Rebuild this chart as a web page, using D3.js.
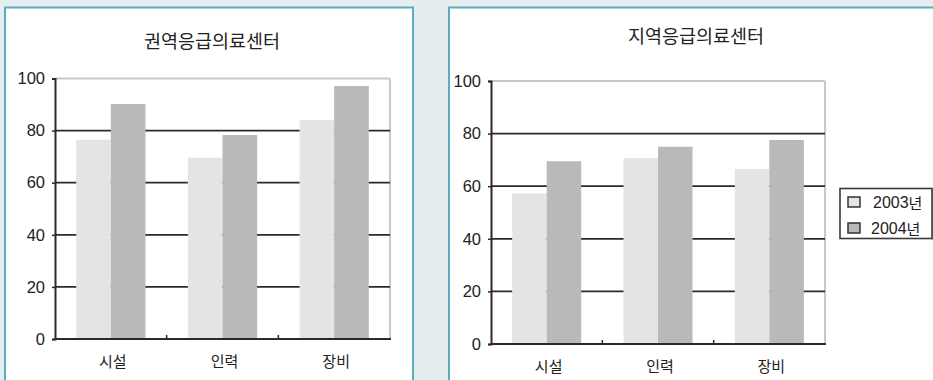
<!DOCTYPE html>
<html>
<head>
<meta charset="utf-8">
<script src="https://cdn.jsdelivr.net/npm/d3@7"></script>
<style>
  html, body { margin: 0; padding: 0; background: #e4edf0; }
  svg { display: block; }
  text { font-family: "Noto Sans CJK KR", "Liberation Sans", sans-serif; fill: #222; }
</style>
</head>
<body>
<svg id="chart" width="933" height="380"></svg>
<script>
// Categories and series
const categories = ["시설", "인력", "장비"];
const seriesNames = ["2003년", "2004년"];
const yTicks = [0, 20, 40, 60, 80, 100];

// 권역응급의료센터
const regionalTitle = "권역응급의료센터";
const regional2003 = [76.5, 69.6, 84.0];
const regional2004 = [90.2, 78.3, 97.1];

// 지역응급의료센터
const localTitle = "지역응급의료센터";
const local2003 = [57.3, 70.7, 66.5];
const local2004 = [69.5, 75.0, 77.6];

const colors = ["#e4e4e4", "#b9b9b9"];
const numFont = "'Liberation Sans Narrow', 'Liberation Sans', sans-serif";

const svg = d3.select("#chart");

// Panel frames
svg.append("rect").attr("x", 5).attr("y", 7.5).attr("width", 408).attr("height", 400)
  .attr("fill", "#fff").attr("stroke", "#5aaebc").attr("stroke-width", 2);
svg.append("rect").attr("x", 449).attr("y", 7.5).attr("width", 500).attr("height", 400)
  .attr("fill", "#fff").attr("stroke", "#5aaebc").attr("stroke-width", 2);

function drawChart(cfg) {
  const g = svg.append("g");
  const x = d3.scaleBand().domain(categories).range([cfg.x0, cfg.x1]).padding(0);
  const y = d3.scaleLinear().domain([0, 100]).range([cfg.yBottom, cfg.yTop]);
  const groupW = x.bandwidth() * 0.62;
  const xs = d3.scaleBand().domain(seriesNames).range([0, groupW]).padding(0);

  // title
  g.append("text").attr("x", cfg.titleX).attr("y", cfg.titleY)
    .attr("text-anchor", "middle").attr("dominant-baseline", "central")
    .attr("font-size", 18.5).text(cfg.title);

  // frame: top and right edges in light grey
  g.append("line").attr("x1", cfg.x0).attr("x2", cfg.x1).attr("y1", y(100)).attr("y2", y(100))
    .attr("stroke", "#c9c9c9").attr("stroke-width", 2);
  g.append("line").attr("x1", cfg.x1).attr("x2", cfg.x1).attr("y1", y(100)).attr("y2", y(0))
    .attr("stroke", "#c9c9c9").attr("stroke-width", 2);

  // horizontal gridlines
  g.selectAll(".grid").data(yTicks.filter(t => t > 0 && t < 100)).join("line")
    .attr("x1", cfg.x0).attr("x2", cfg.x1)
    .attr("y1", d => y(d)).attr("y2", d => y(d))
    .attr("stroke", "#2a2a2a").attr("stroke-width", 1.8);

  // bars
  const data = categories.map((c, i) => ({ c, vals: [cfg.s1[i], cfg.s2[i]] }));
  const groups = g.selectAll(".grp").data(data).join("g")
    .attr("transform", d => `translate(${x(d.c) + (x.bandwidth() - groupW) / 2},0)`);
  groups.selectAll("rect").data(d => d.vals.map((v, k) => ({ v, k }))).join("rect")
    .attr("x", d => xs(seriesNames[d.k]))
    .attr("width", xs.bandwidth())
    .attr("y", d => y(d.v))
    .attr("height", d => y(0) - y(d.v))
    .attr("fill", d => colors[d.k]);

  // left axis
  const yAxis = d3.axisLeft(y).tickValues(yTicks).tickSize(3).tickPadding(7);
  const ya = g.append("g").attr("transform", `translate(${cfg.x0},0)`).call(yAxis);
  ya.select(".domain").attr("stroke", "#2a2a2a").attr("stroke-width", 2);
  ya.selectAll(".tick line").attr("stroke", "#2a2a2a").attr("stroke-width", 1.5);
  ya.selectAll(".tick text").attr("font-size", 16.5).attr("fill", "#222")
    .style("font-family", numFont);

  // bottom axis with separators between categories
  g.append("line").attr("x1", cfg.x0).attr("x2", cfg.x1 + 1).attr("y1", y(0)).attr("y2", y(0))
    .attr("stroke", "#2a2a2a").attr("stroke-width", 2);
  g.selectAll(".sep").data(categories.slice(1)).join("line")
    .attr("x1", d => x(d)).attr("x2", d => x(d))
    .attr("y1", y(0)).attr("y2", y(0) - 4)
    .attr("stroke", "#2a2a2a").attr("stroke-width", 1.5);
  g.selectAll(".xl").data(categories).join("text")
    .attr("x", d => x(d) + x.bandwidth() / 2 + 2)
    .attr("y", cfg.yBottom + 21)
    .attr("text-anchor", "middle").attr("dominant-baseline", "central")
    .attr("font-size", 15).text(d => d);
  return { x, y };
}

drawChart({ title: regionalTitle, s1: regional2003, s2: regional2004,
  x0: 55, x1: 390, yTop: 78.5, yBottom: 339, titleX: 212, titleY: 40 });
drawChart({ title: localTitle, s1: local2003, s2: local2004,
  x0: 491, x1: 825, yTop: 81, yBottom: 344, titleX: 696, titleY: 35 });

// legend
const lg = svg.append("g");
lg.append("rect").attr("x", 840).attr("y", 188.5).attr("width", 92).attr("height", 50)
  .attr("fill", "#fff").attr("stroke", "#3a3a3a").attr("stroke-width", 1.6);
lg.append("line").attr("x1", 932.5).attr("x2", 932.5).attr("y1", 189).attr("y2", 239.5)
  .attr("stroke", "#555").attr("stroke-width", 1);
const items = lg.selectAll(".li").data(seriesNames).join("g")
  .attr("transform", (d, i) => `translate(848,${202 + i * 26})`);
items.append("rect").attr("x", 0).attr("y", -5).attr("width", 12).attr("height", 10)
  .attr("fill", (d, i) => colors[i]).attr("stroke", "#333").attr("stroke-width", 1.5);
const lt = items.append("text").attr("x", (d, i) => i === 0 ? 25 : 23).attr("y", 0)
  .attr("dominant-baseline", "central").attr("font-size", 15);
lt.append("tspan").style("font-family", numFont).attr("font-size", 16).text(d => d.slice(0, 4));
lt.append("tspan").text(d => d.slice(4));
</script>
</body>
</html>
